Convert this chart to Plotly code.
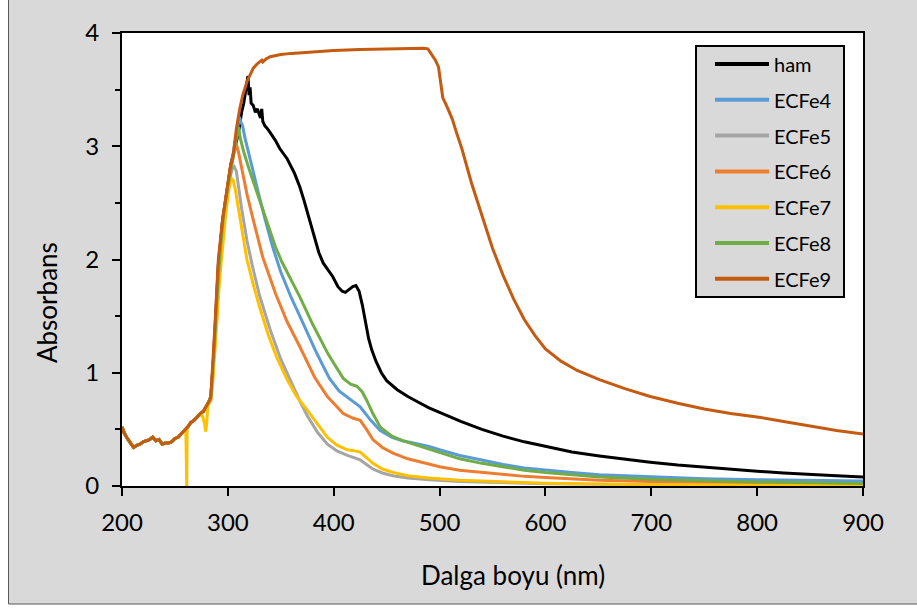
import plotly.graph_objects as go

# ---- spectra: wavelength (nm) and absorbance for each sample ----
base_nm = [200, 202, 205, 208, 211, 214, 217, 220, 223, 226, 229, 232, 235, 238,
           241, 244, 247, 250, 253, 256, 259, 262, 265, 268, 271, 274, 277, 280, 283]
base_abs = [0.52, 0.47, 0.42, 0.38, 0.34, 0.36, 0.37, 0.39, 0.40, 0.41, 0.43, 0.40, 0.41, 0.37,
            0.38, 0.38, 0.39, 0.42, 0.43, 0.46, 0.49, 0.52, 0.56, 0.58, 0.61, 0.64, 0.66, 0.71, 0.76]

ham_nm = base_nm + [284, 286, 288, 291, 295, 299, 303, 307, 310, 313, 315, 317, 319, 320, 321, 322,
                    324, 326, 328, 330, 331, 332, 333, 335, 337, 340, 345, 349, 356, 363, 368, 372,
                    377, 382, 386, 390, 395, 399, 404, 408, 411, 414, 418, 421, 424, 427, 430, 433,
                    436, 440, 445, 450, 460, 470, 480, 490, 500, 520, 540, 560, 580, 600, 625, 651,
                    675, 699, 725, 750, 775, 800, 825, 850, 875, 900]
ham_abs = base_abs + [0.78, 1.05, 1.40, 1.95, 2.35, 2.62, 2.85, 3.00, 3.12, 3.30, 3.38, 3.50, 3.62, 3.45,
                      3.52, 3.38, 3.36, 3.30, 3.33, 3.27, 3.25, 3.33, 3.22, 3.18, 3.16, 3.12, 3.05, 2.98,
                      2.89, 2.76, 2.64, 2.52, 2.36, 2.18, 2.06, 1.97, 1.90, 1.85, 1.76, 1.72, 1.71, 1.73,
                      1.76, 1.77, 1.72, 1.60, 1.45, 1.30, 1.20, 1.10, 1.00, 0.93, 0.85, 0.79, 0.74, 0.69,
                      0.65, 0.57, 0.50, 0.44, 0.39, 0.35, 0.30, 0.265, 0.235, 0.21, 0.185, 0.165, 0.145,
                      0.13, 0.115, 0.10, 0.09, 0.08]

ecfe4_nm = base_nm + [284, 287, 290, 293, 296, 300, 304, 307, 309, 311, 312, 314, 316, 321, 328, 335,
                      342, 350, 360, 368, 375, 382, 390, 396, 405, 415, 425, 435, 444, 455, 465, 475,
                      490, 500, 519, 540, 560, 580, 600, 625, 651, 700, 750, 800, 850, 900]
ecfe4_abs = base_abs + [0.80, 1.20, 1.70, 2.10, 2.40, 2.65, 2.90, 3.05, 3.15, 3.26, 3.22, 3.18, 3.08, 2.88,
                        2.62, 2.36, 2.12, 1.89, 1.66, 1.50, 1.35, 1.21, 1.06, 0.95, 0.84, 0.77, 0.70, 0.58,
                        0.49, 0.43, 0.40, 0.38, 0.35, 0.32, 0.27, 0.23, 0.19, 0.16, 0.14, 0.12, 0.10, 0.08,
                        0.065, 0.055, 0.05, 0.044]

ecfe5_nm = base_nm + [284, 287, 290, 293, 296, 299, 302, 304, 306, 308, 310, 313, 318, 323, 330, 340,
                      350, 359, 368, 375, 385, 394, 403, 413, 420, 425, 431, 437, 446, 456, 470, 490,
                      519, 560, 600, 700, 800, 900]
ecfe5_abs = base_abs + [0.75, 1.15, 1.60, 2.00, 2.30, 2.55, 2.72, 2.80, 2.82, 2.78, 2.65, 2.45, 2.17, 1.95,
                        1.68, 1.38, 1.12, 0.93, 0.75, 0.62, 0.47, 0.37, 0.31, 0.27, 0.25, 0.23, 0.19, 0.15,
                        0.115, 0.09, 0.07, 0.055, 0.04, 0.03, 0.02, 0.012, 0.008, 0.005]

ecfe6_nm = base_nm + [284, 287, 290, 293, 296, 300, 303, 306, 308, 310, 313, 318, 324, 333, 345, 356,
                      368, 382, 394, 409, 418, 425, 431, 437, 446, 456, 470, 490, 500, 519, 540, 560,
                      580, 600, 651, 700, 800, 900]
ecfe6_abs = base_abs + [0.80, 1.20, 1.70, 2.10, 2.40, 2.65, 2.82, 2.95, 3.02, 2.95, 2.80, 2.58, 2.35, 2.02,
                        1.70, 1.45, 1.23, 0.96, 0.79, 0.64, 0.60, 0.58, 0.50, 0.41, 0.34, 0.29, 0.24, 0.19,
                        0.17, 0.14, 0.12, 0.10, 0.085, 0.075, 0.05, 0.04, 0.03, 0.02]

ecfe7_nm = [200, 202, 205, 208, 211, 214, 217, 220, 223, 226, 229, 232, 235, 238, 241, 244, 247,
            250, 253, 256, 259, 260.3, 260.6, 261.2, 261.5, 262, 265, 268, 271, 274, 276, 278, 279,
            280, 281, 283, 284, 286, 288, 290, 292, 295, 298, 301, 303, 305, 307, 310, 314, 318,
            324, 330, 338, 346, 356, 365, 375, 385, 394, 403, 413, 420, 425, 431, 437, 446, 456,
            470, 490, 519, 560, 600, 700, 800, 900]
ecfe7_abs = [0.52, 0.47, 0.42, 0.38, 0.34, 0.36, 0.37, 0.39, 0.40, 0.41, 0.43, 0.40, 0.41, 0.37, 0.38,
             0.38, 0.39, 0.42, 0.43, 0.46, 0.49, 0.49, 0.0, 0.0, 0.51, 0.52, 0.56, 0.58, 0.61, 0.63,
             0.62, 0.55, 0.48, 0.55, 0.70, 0.74, 0.76, 0.95, 1.20, 1.50, 1.80, 2.10, 2.40, 2.62, 2.72,
             2.70, 2.62, 2.45, 2.22, 2.00, 1.78, 1.58, 1.34, 1.14, 0.94, 0.79, 0.67, 0.54, 0.43, 0.36,
             0.32, 0.31, 0.30, 0.25, 0.20, 0.15, 0.12, 0.09, 0.07, 0.05, 0.035, 0.025, 0.012, 0.006,
             0.003]

ecfe8_nm = base_nm + [284, 287, 290, 293, 296, 300, 304, 307, 309, 310, 312, 315, 320, 325, 330, 335,
                      340, 345, 351, 360, 368, 380, 395, 409, 416, 422, 427, 431, 437, 444, 455, 465,
                      475, 490, 500, 519, 540, 560, 580, 600, 625, 651, 700, 750, 800, 850, 900]
ecfe8_abs = base_abs + [0.80, 1.20, 1.70, 2.10, 2.40, 2.65, 2.85, 3.00, 3.10, 3.17, 3.06, 2.95, 2.80, 2.66,
                        2.52, 2.38, 2.24, 2.11, 1.98, 1.82, 1.67, 1.43, 1.16, 0.95, 0.90, 0.88, 0.83, 0.76,
                        0.64, 0.52, 0.44, 0.40, 0.37, 0.33, 0.30, 0.24, 0.20, 0.17, 0.14, 0.12, 0.10, 0.08,
                        0.06, 0.045, 0.035, 0.028, 0.022]

ecfe9_nm = base_nm + [284, 286, 288, 291, 295, 299, 302, 305, 308, 311, 314, 318, 321, 324, 328, 332,
                      333, 336, 340, 350, 360, 375, 400, 425, 450, 470, 485, 489, 491, 494, 496, 499,
                      501, 503, 507, 512, 516, 521, 530, 540, 550, 560, 570, 580, 590, 600, 615, 630,
                      651, 675, 699, 725, 750, 775, 800, 825, 850, 875, 900]
ecfe9_abs = base_abs + [0.80, 1.10, 1.45, 2.00, 2.35, 2.60, 2.80, 2.92, 3.15, 3.32, 3.45, 3.57, 3.63, 3.69,
                        3.73, 3.76, 3.745, 3.77, 3.79, 3.81, 3.82, 3.83, 3.845, 3.855, 3.86, 3.865, 3.865,
                        3.86, 3.83, 3.79, 3.76, 3.70, 3.58, 3.43, 3.35, 3.24, 3.12, 2.98, 2.68, 2.38, 2.10,
                        1.86, 1.65, 1.47, 1.33, 1.21, 1.10, 1.02, 0.94, 0.86, 0.79, 0.73, 0.68, 0.64, 0.61,
                        0.57, 0.53, 0.49, 0.46]

names = ["ham", "ECFe4", "ECFe5", "ECFe6", "ECFe7", "ECFe8", "ECFe9"]
colors = ["#000000", "#5B9BD5", "#A5A5A5", "#ED7D31", "#FFC000", "#70AD47", "#C55A11"]
series = [(ham_nm, ham_abs), (ecfe4_nm, ecfe4_abs), (ecfe5_nm, ecfe5_abs), (ecfe6_nm, ecfe6_abs),
          (ecfe7_nm, ecfe7_abs), (ecfe8_nm, ecfe8_abs), (ecfe9_nm, ecfe9_abs)]

x_title = "Dalga boyu (nm)"
y_title = "Absorbans"

FONT = "Lato"
W, H = 917, 610
L, R, T, B = 122, 54, 33, 124
PW, PH = W - L - R, H - T - B


def px_x(px):
    return (px - L) / PW


def px_y(py):
    return (H - B - py) / PH


fig = go.Figure()
for name, color, (xs, ys) in zip(names, colors, series):
    fig.add_trace(go.Scatter(x=xs, y=ys, mode="lines", name=name,
                             line=dict(color=color, width=3), showlegend=False))

axis_common = dict(showline=True, linecolor="black", linewidth=2, mirror=True,
                   ticks="outside", tickcolor="black", tickwidth=2, ticklen=8,
                   showgrid=False, zeroline=False,
                   tickfont=dict(family=FONT, size=24, color="black"))

fig.update_xaxes(range=[200, 900], dtick=100, tick0=200, ticklabelstandoff=6, **axis_common)
fig.update_yaxes(range=[0, 4], dtick=1, tick0=0, ticklabelstandoff=8,
                 minor=dict(dtick=0.5, ticks="outside", ticklen=5, tickcolor="black", tickwidth=2),
                 **axis_common)

shapes = []
annotations = []

# outer chart frame: white strip on the left and below, thin dark border
shapes.append(dict(type="rect", xref="paper", yref="paper", x0=px_x(-2), x1=px_x(8),
                   y0=px_y(-2), y1=px_y(612), fillcolor="white", line=dict(width=0), layer="below"))
shapes.append(dict(type="rect", xref="paper", yref="paper", x0=px_x(-2), x1=px_x(920),
                   y0=px_y(604), y1=px_y(612), fillcolor="white", line=dict(width=0), layer="below"))
shapes.append(dict(type="line", xref="paper", yref="paper", x0=px_x(8.5), x1=px_x(8.5),
                   y0=px_y(-2), y1=px_y(604), line=dict(color="#595959", width=1)))
shapes.append(dict(type="line", xref="paper", yref="paper", x0=px_x(8.5), x1=px_x(920),
                   y0=px_y(604), y1=px_y(604), line=dict(color="#595959", width=1)))

# legend box
shapes.append(dict(type="rect", xref="paper", yref="paper", x0=px_x(696), x1=px_x(844),
                   y0=px_y(297), y1=px_y(46), fillcolor="#D9D9D9",
                   line=dict(color="black", width=2)))
for i, (name, color) in enumerate(zip(names, colors)):
    ry = 64 + i * 35.8
    shapes.append(dict(type="line", xref="paper", yref="paper", x0=px_x(715), x1=px_x(769),
                       y0=px_y(ry), y1=px_y(ry), line=dict(color=color, width=4)))
    annotations.append(dict(text=name, xref="paper", yref="paper", x=px_x(772), y=px_y(ry),
                            xanchor="left", yanchor="middle", showarrow=False,
                            font=dict(family=FONT, size=20, color="black")))

annotations.append(dict(text=x_title, xref="paper", yref="paper", x=px_x(513), y=px_y(575),
                        xanchor="center", yanchor="middle", showarrow=False,
                        font=dict(family=FONT, size=26, color="black")))
annotations.append(dict(text=y_title, xref="paper", yref="paper", x=px_x(47), y=px_y(303),
                        xanchor="center", yanchor="middle", showarrow=False, textangle=-90,
                        font=dict(family=FONT, size=26, color="black")))

fig.update_layout(width=W, height=H, margin=dict(l=L, r=R, t=T, b=B),
                  paper_bgcolor="#D9D9D9", plot_bgcolor="white",
                  shapes=shapes, annotations=annotations, showlegend=False)

fig.write_html("out.html")
